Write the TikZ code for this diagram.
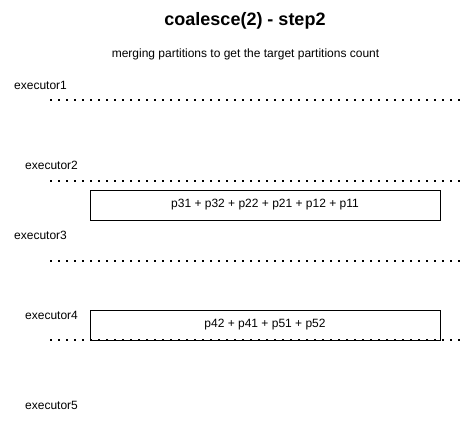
\documentclass[tikz,border=0pt]{standalone}
\usepackage{fontspec}
\setmainfont{Liberation Sans}
\begin{document}
\begin{tikzpicture}[x=1pt,y=-1pt,
  lbl/.style={anchor=west,inner sep=0pt,font=\fontsize{12}{14}\selectfont},
  dotline/.style={line width=2pt,dash pattern=on 2pt off 6pt},
  partbox/.style={draw,line width=1pt,minimum width=350pt,minimum height=30pt,inner sep=0pt,font=\fontsize{12}{14}\selectfont}]
\useasboundingbox[fill=white] (0,0) rectangle (462,420);
\node[font=\bfseries\fontsize{18}{21}\selectfont] (title) at (245,21) {coalesce(2) - step2};
\node[font=\fontsize{12}{14}\selectfont] (sub) at (245.5,54) {merging partitions to get the target partitions count};
\node[lbl] (e1) at (14,85) {executor1};
\node[lbl] (e2) at (25,165) {executor2};
\node[lbl] (e3) at (14,235) {executor3};
\node[lbl] (e4) at (25,315) {executor4};
\node[lbl] (e5) at (25,405) {executor5};
\coordinate (l1a) at (50,100); \coordinate (l1b) at (462,100);
\coordinate (l2a) at (50,181); \coordinate (l2b) at (462,181);
\coordinate (l3a) at (50,261); \coordinate (l3b) at (462,261);
\coordinate (l4a) at (50,340); \coordinate (l4b) at (462,340);
\draw[dotline] (l1a) -- (l1b);
\draw[dotline] (l2a) -- (l2b);
\draw[dotline] (l3a) -- (l3b);
\draw[dotline] (l4a) -- (l4b);
\node[partbox] (b1) at (265,205) {p31 + p32 + p22 + p21 + p12 + p11};
\node[partbox] (b2) at (265,325) {p42 + p41 + p51 + p52};
\end{tikzpicture}
\end{document}
